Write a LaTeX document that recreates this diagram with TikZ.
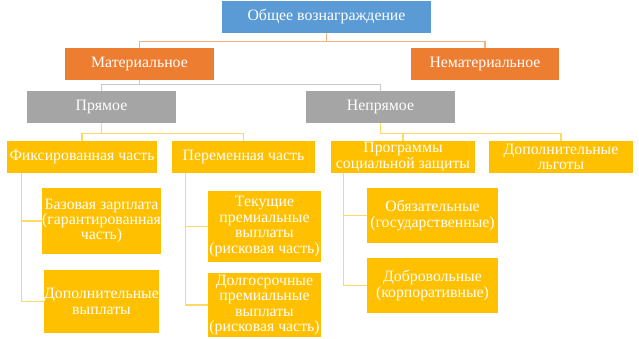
\documentclass[tikz,border=0pt]{standalone}
\usepackage{fontspec}
\setmainfont{Liberation Serif}
\usepackage{xcolor}
\usepackage{tikz}
\usetikzlibrary{positioning}

\definecolor{boxblue}{HTML}{5B9BD5}
\definecolor{boxorange}{HTML}{ED7D31}
\definecolor{boxgray}{HTML}{A5A5A5}
\definecolor{boxgold}{HTML}{FFC000}
\definecolor{lineorange}{HTML}{F4B183}
\definecolor{linegray}{HTML}{C9C9C9}
\definecolor{linegold}{HTML}{FFD966}

\begin{document}
\begin{tikzpicture}[x=1pt, y=-1pt,
  every node/.style={font=\fontsize{15.8}{15.4}\selectfont, text=white, align=center, inner sep=0pt},
  box/.style={rectangle, minimum height=32pt},
  conn/.style={line width=1.2pt}]
\useasboundingbox (0,0) rectangle (639,339);
% Top
\node[box, fill=boxblue, minimum width=209pt] (total) at (326.5,17) {Общее вознаграждение};
% Material / non-material
\node[box, fill=boxorange, minimum width=149pt] (mat) at (139.5,64) {Материальное};
\node[box, fill=boxorange, minimum width=148pt] (nonmat) at (485,64) {Нематериальное};
% Direct / indirect
\node[box, fill=boxgray, minimum width=149pt] (direct) at (101.5,107) {Прямое};
\node[box, fill=boxgray, minimum width=149pt] (indirect) at (380.5,107) {Непрямое};
% Third level
\node[box, fill=boxgold, minimum width=150pt] (fix) at (82,157) {Фиксированная часть};
\node[box, fill=boxgold, minimum width=143pt] (var) at (243.5,157) {Переменная часть};
\node[box, fill=boxgold, minimum width=144pt] (social) at (403,157) {Программы\\социальной защиты};
\node[box, fill=boxgold, minimum width=144pt] (extra) at (561,157) {Дополнительные\\льготы};
% Leaves
\node[fill=boxgold, minimum width=113pt, minimum height=66pt] (base) at (101.5,221) {Базовая зарплата\\(гарантированная\\часть)};
\node[fill=boxgold, minimum width=113pt, minimum height=63pt] (addpay) at (101.5,301.5) {Дополнительные\\выплаты};
\node[fill=boxgold, minimum width=113pt, minimum height=71pt] (cur) at (264.5,226.5) {Текущие\\премиальные\\выплаты\\(рисковая часть)};
\node[fill=boxgold, minimum width=113pt, minimum height=64pt] (long) at (264.5,305) {Долгосрочные\\премиальные\\выплаты\\(рисковая часть)};
\node[fill=boxgold, minimum width=131pt, minimum height=55pt] (mand) at (432.5,215.5) {Обязательные\\(государственные)};
\node[fill=boxgold, minimum width=131pt, minimum height=55pt] (vol) at (432.5,285.5) {Добровольные\\(корпоративные)};
% Connectors
\draw[conn, lineorange] (total.south) -- ++(0,8) -| (mat.north);
\draw[conn, lineorange] (total.south) -- ++(0,8) -| (nonmat.north);
\draw[conn, linegray] (mat.south) -- ++(0,4) -| (direct.north);
\draw[conn, linegray] (mat.south) -- ++(0,4) -| (indirect.north);
\draw[conn, linegold] (direct.south) -- ++(0,10) -| (fix.north);
\draw[conn, linegold] (direct.south) -- ++(0,10) -| (var.north);
\draw[conn, linegold] (indirect.south) -- ++(0,10) -| (social.north);
\draw[conn, linegold] (indirect.south) -- ++(0,10) -| (extra.north);
\draw[conn, linegold] ([xshift=15pt]fix.south west) |- (base.west);
\draw[conn, linegold] ([xshift=15pt]fix.south west) |- (addpay.west);
\draw[conn, linegold] ([xshift=14pt]var.south west) |- (cur.west);
\draw[conn, linegold] ([xshift=14pt]var.south west) |- (long.west);
\draw[conn, linegold] ([xshift=13pt]social.south west) |- (mand.west);
\draw[conn, linegold] ([xshift=13pt]social.south west) |- (vol.west);
\end{tikzpicture}
\end{document}
